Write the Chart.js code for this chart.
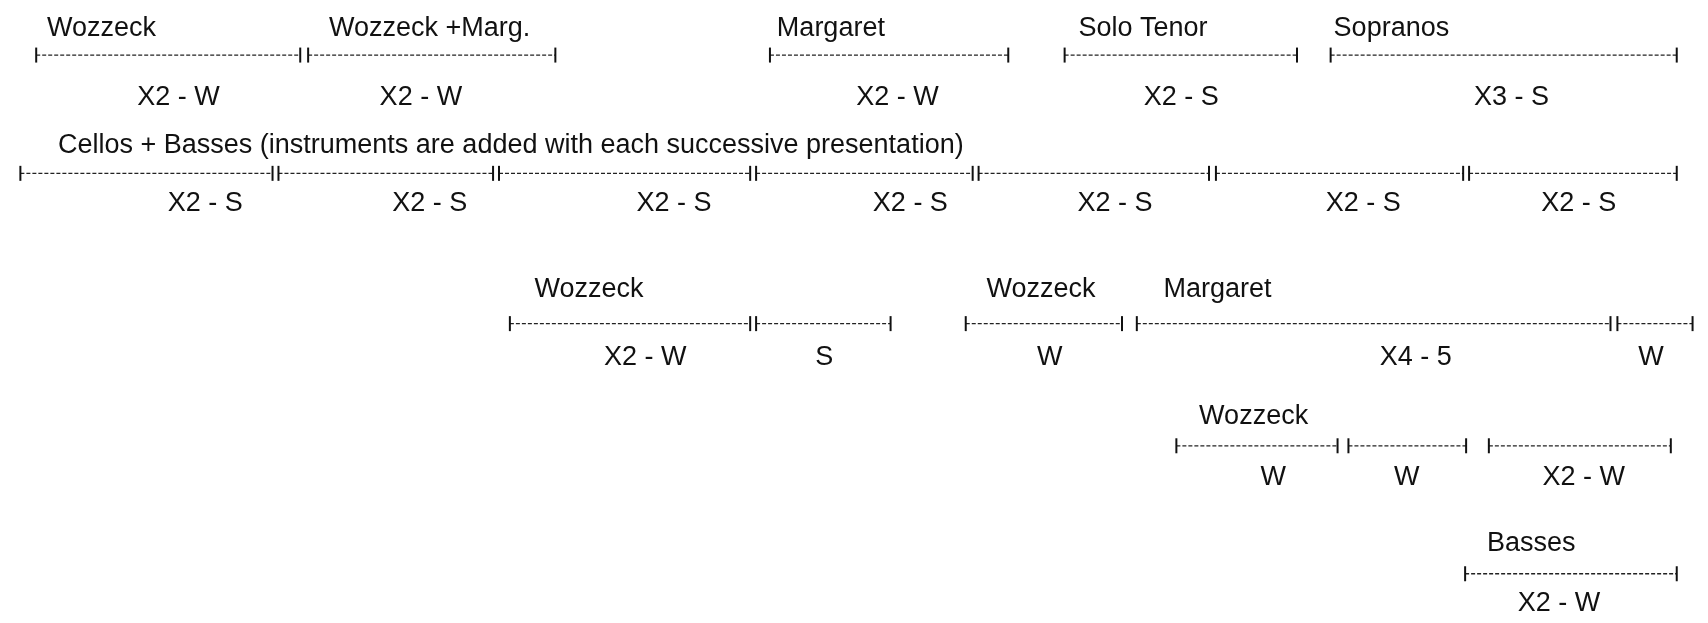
<!DOCTYPE html>
<html>
<head>
<meta charset="utf-8">
<script src="https://cdn.jsdelivr.net/npm/chart.js@4"></script>
<style>
  body { margin: 0; background: #fff; }
  canvas { display: block; }
</style>
</head>
<body>
<canvas id="myChart" width="1708" height="623"></canvas>
<script>
// segments: start, end, row (0 = top line), note under it
var segStart = [27, 302, 769, 1067, 1336,
                11, 272, 495, 755, 980, 1220, 1476,
                506, 755, 967, 1140, 1626,
                1180, 1354, 1496,
                1472];
var segEnd   = [294, 552, 1010, 1302, 1686,
                266, 489, 749, 974, 1213, 1470, 1686,
                749, 891, 1125, 1619, 1702,
                1343, 1473, 1680,
                1686];
var segRow   = [0, 0, 0, 0, 0,
                1, 1, 1, 1, 1, 1, 1,
                2, 2, 2, 2, 2,
                3, 3, 3,
                4];
var segNote  = ['X2 - W', 'X2 - W', 'X2 - W', 'X2 - S', 'X3 - S',
                'X2 - S', 'X2 - S', 'X2 - S', 'X2 - S', 'X2 - S', 'X2 - S', 'X2 - S',
                'X2 - W', 'S', 'W', 'X4 - 5', 'W',
                'W', 'W', 'X2 - W',
                'X2 - W'];
var noteX    = [171, 416, 898, 1185, 1519,
                198, 425, 672, 911, 1118, 1369, 1587,
                643, 824, 1052, 1422, 1660,
                1278, 1413, 1592,
                1567];

// voice / instrument titles above the lines
var titles  = ['Wozzeck', 'Wozzeck +Marg.', 'Margaret', 'Solo Tenor', 'Sopranos',
               'Cellos + Basses (instruments are added with each successive presentation)',
               'Wozzeck', 'Wozzeck', 'Margaret',
               'Wozzeck',
               'Basses'];
var titleX   = [38, 323, 776, 1081, 1339, 49, 531, 988, 1167, 1203, 1494];
var titleRow = [0, 0, 0, 0, 0, 1, 2, 2, 2, 3, 4];

// page layout of the rows (y axis runs 0..623 downwards)
var rowLine  = [47, 169, 324, 450, 582];
var titleGap = [27, 29, 35, 30, 31];
var noteGap  = [44, 31, 35, 33, 31];

var datasets = segStart.map(function (s, i) {
  var y = rowLine[segRow[i]];
  return {
    data: [{x: s, y: y}, {x: segEnd[i], y: y}],
    showLine: true,
    borderColor: '#222',
    borderWidth: 1.3,
    borderDash: [4, 2],
    pointStyle: 'line',
    pointRotation: 90,
    pointRadius: 7.5,
    pointBorderWidth: 2,
    pointBorderColor: '#111',
    clip: false
  };
});

// write the titles and the notes next to the lines
var textPlugin = {
  id: 'texts',
  afterDatasetsDraw: function (chart) {
    var c = chart.ctx, xs = chart.scales.x, ys = chart.scales.y;
    c.save();
    c.fillStyle = '#111';
    c.font = '27px "Liberation Sans", Arial, sans-serif';
    c.textBaseline = 'middle';
    c.textAlign = 'left';
    titles.forEach(function (t, i) {
      var r = titleRow[i];
      c.fillText(t, xs.getPixelForValue(titleX[i]), ys.getPixelForValue(rowLine[r] - titleGap[r]));
    });
    c.textAlign = 'center';
    segNote.forEach(function (t, i) {
      var r = segRow[i];
      c.fillText(t, xs.getPixelForValue(noteX[i]), ys.getPixelForValue(rowLine[r] + noteGap[r]));
    });
    c.restore();
  }
};

var ctx = document.getElementById('myChart');
var myChart = new Chart(ctx, {
  type: 'scatter',
  data: { datasets: datasets },
  options: {
    responsive: false,
    animation: false,
    devicePixelRatio: 1,
    layout: { padding: 0 },
    plugins: { legend: { display: false }, tooltip: { enabled: false } },
    scales: {
      x: { type: 'linear', min: 0, max: 1708, display: false },
      y: { type: 'linear', min: 0, max: 623, reverse: true, display: false }
    }
  },
  plugins: [textPlugin]
});
</script>
</body>
</html>
